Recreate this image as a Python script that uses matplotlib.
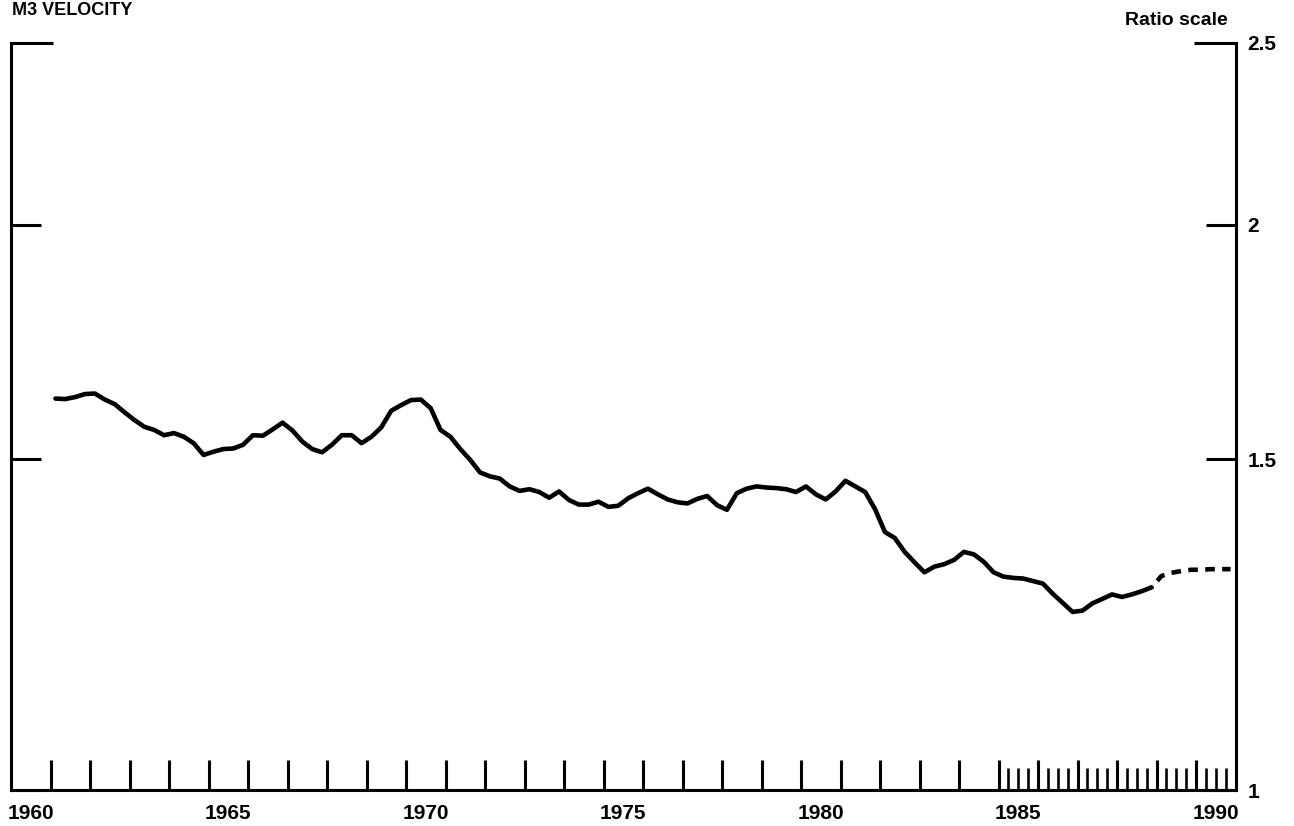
import matplotlib
matplotlib.use("Agg")
import matplotlib.pyplot as plt

plt.rcParams['font.family'] = ['Liberation Sans', 'DejaVu Sans']
plt.rcParams['font.weight'] = 'bold'

# ---- data (quarterly M3 velocity, ratio scale) ----
first_year = 1961          # first observation: 1961 Q1
velocity = [1.616, 1.615, 1.619, 1.625, 1.626, 1.614, 1.605, 1.589, 1.574, 1.561,
            1.555, 1.545, 1.549, 1.542, 1.530, 1.508, 1.514, 1.519, 1.520, 1.527,
            1.545, 1.544, 1.556, 1.569, 1.554, 1.533, 1.519, 1.513, 1.527, 1.545,
            1.545, 1.530, 1.542, 1.560, 1.592, 1.603, 1.613, 1.614, 1.597, 1.555,
            1.542, 1.519, 1.499, 1.476, 1.469, 1.465, 1.451, 1.443, 1.446, 1.441,
            1.431, 1.442, 1.427, 1.419, 1.419, 1.424, 1.415, 1.417, 1.430, 1.439,
            1.447, 1.437, 1.428, 1.423, 1.421, 1.429, 1.434, 1.418, 1.410, 1.439,
            1.447, 1.451, 1.449, 1.448, 1.446, 1.441, 1.451, 1.437, 1.428, 1.442,
            1.461, 1.451, 1.441, 1.411, 1.372, 1.362, 1.339, 1.322, 1.306, 1.315,
            1.319, 1.326, 1.339, 1.335, 1.323, 1.306, 1.299, 1.297, 1.296, 1.292,
            1.288, 1.272, 1.258, 1.244, 1.246, 1.257, 1.264, 1.271, 1.267, 1.271,
            1.276, 1.282]
# projection (dashed), starting at the last actual quarter
projection = [1.282, 1.300, 1.305, 1.308, 1.310, 1.310, 1.311, 1.311, 1.311]

year_labels = [1960, 1965, 1970, 1975, 1980, 1985, 1990]
ytick_vals = [1, 1.5, 2]
ytick_labels = ['1', '1.5', '2']
ytop_val, ytop_label = 2.5, '2.5'

# quarter dates (mid-quarter)
def qdate(i):
    return first_year + (i + 0.5) / 4.0

x_act = [qdate(i) for i in range(len(velocity))]
start_proj = len(velocity) - 1
x_proj = [qdate(start_proj + i) for i in range(len(projection))]

W, H = 1294, 826
fig = plt.figure(figsize=(W / 100, H / 100), dpi=100)
ax = fig.add_axes([11 / W, 36 / H, (1235.5 - 11) / W, (790 - 42.7) / H])
ax.set_yscale('log')
ax.set_xlim(1960, 1991)
ax.set_ylim(1, 2.5)

ax.plot(x_act, velocity, color='black', lw=3.3,
        solid_joinstyle='round', solid_capstyle='round')
ax.plot(x_proj, projection, color='black', lw=3.3,
        linestyle=(1.8, (2.1, 1.6)), dash_capstyle='butt')

for s in ['left', 'right', 'bottom']:
    ax.spines[s].set_linewidth(2.2)
ax.spines['top'].set_visible(False)

# x ticks: yearly, plus quarterly from 1985
ax.set_xticks(list(range(1961, 1991)))
ax.set_xticks([y + q / 4 for y in range(1985, 1991) for q in (1, 2, 3)], minor=True)
ax.tick_params(axis='x', which='major', direction='in', length=21.6, width=2.2,
               labelbottom=False)
ax.tick_params(axis='x', which='minor', direction='in', length=15.8, width=1.9,
               labelbottom=False)

# y ticks
ax.set_yticks(ytick_vals, ytick_labels)
ax.set_yticks([ytop_val], [ytop_label], minor=True)
ax.tick_params(axis='y', which='both', direction='in', left=True, right=True,
               labelleft=False, labelright=True, width=2.2, pad=8.5, labelsize=15)
ax.tick_params(axis='y', which='major', length=21.6)
ax.tick_params(axis='y', which='minor', length=30)

for yr in year_labels:
    ax.text(yr + 0.5, -0.0308, str(yr), transform=ax.get_xaxis_transform(),
            ha='center', va='center', fontsize=15)

fig.text(1228 / W, 1 - 25 / H, 'Ratio scale', ha='right', va='baseline', fontsize=14)
fig.text(12 / W, 1 - 2 / H, 'M3 VELOCITY', ha='left', va='top', fontsize=13)

fig.savefig('out.png', dpi=100)
